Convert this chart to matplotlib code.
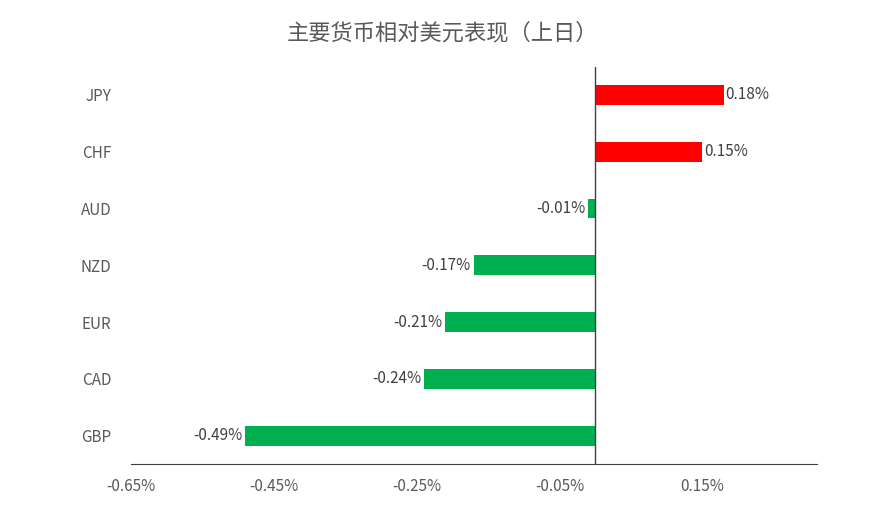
import matplotlib
matplotlib.use('Agg')
import matplotlib.pyplot as plt

plt.rcParams['font.family'] = ['Noto Sans CJK SC', 'DejaVu Sans']

# 数据（从上到下）
currencies = ['JPY', 'CHF', 'AUD', 'NZD', 'EUR', 'CAD', 'GBP']
changes = [0.18, 0.15, -0.01, -0.17, -0.21, -0.24, -0.49]
tick_vals = [-0.65, -0.45, -0.25, -0.05, 0.15]

fig = plt.figure(figsize=(8.84, 5.24), dpi=100)
ax = fig.add_axes([0.148, 0.1145, 0.776, 0.7585])

ypos = list(range(len(currencies)))[::-1]
colors = ['#FF0000' if v > 0 else '#00B050' for v in changes]
ax.barh(ypos, changes, height=0.35, color=colors)

for y, v in zip(ypos, changes):
    txt = f'{v:.2f}%'
    if v > 0:
        ax.text(v + 0.002, y, txt, va='center', ha='left', fontsize=11, color='#404040')
    else:
        ax.text(v - 0.004, y, txt, va='center', ha='right', fontsize=11, color='#404040')

ax.set_xlim(-0.65, 0.31)
ax.set_ylim(-0.5, len(currencies) - 0.5)
ax.set_xticks(tick_vals)
ax.set_xticklabels([f'{t:.2f}%' for t in tick_vals], fontsize=11, color='#595959')
ax.set_yticks(ypos)
ax.set_yticklabels(currencies, fontsize=11, color='#595959')
ax.tick_params(axis='y', length=0, pad=14)

for s in ['top', 'right', 'left']:
    ax.spines[s].set_visible(False)
ax.spines['bottom'].set_color('#404040')
ax.axvline(0, color='#404040', linewidth=1)
ax.tick_params(axis='x', length=0, pad=10)

fig.suptitle('主要货币相对美元表现（上日）', fontsize=16, color='#595959', y=0.96)

fig.savefig('out.png', dpi=100)
